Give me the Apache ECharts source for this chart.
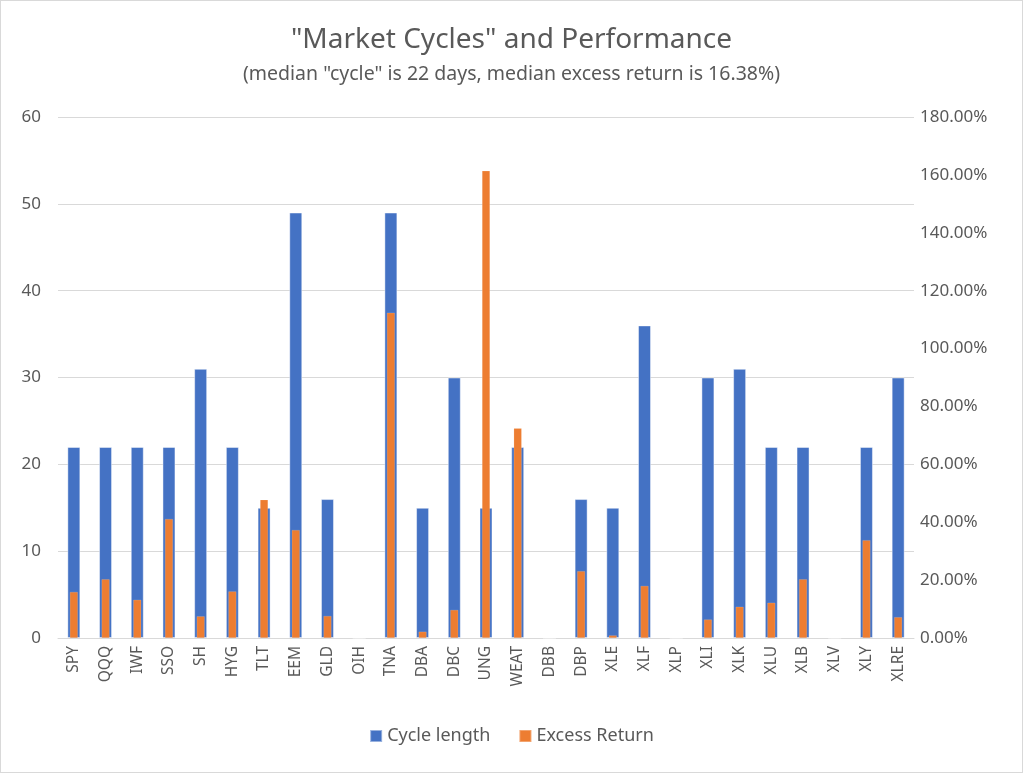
<!DOCTYPE html>
<html><head><meta charset="utf-8">
<script src="https://cdn.jsdelivr.net/npm/echarts@6/dist/echarts.min.js"></script>
<style>html,body{margin:0;padding:0;background:#fff}#c{width:1021px;height:771px;border:1px solid #d9d9d9}</style>
</head><body><div id="c"></div>
<script>
const categories = ['SPY','QQQ','IWF','SSO','SH','HYG','TLT','EEM','GLD','OIH','TNA','DBA','DBC','UNG','WEAT','DBB','DBP','XLE','XLF','XLP','XLI','XLK','XLU','XLB','XLV','XLY','XLRE'];
const cycleLength = [22,22,22,22,31,22,15,49,16,0,49,15,30,15,22,0,16,15,36,0,30,31,22,22,0,22,30];
const excessReturn = [15.9,20.3,13.2,41.1,7.5,16.1,47.8,37.3,7.6,0,112.4,2.2,9.7,161.4,72.5,0,23.1,0.9,18.0,0,6.4,10.8,12.2,20.3,0,33.8,7.2];
const titleText = '"Market Cycles" and Performance';
const subtitleText = '(median "cycle" is 22 days, median excess return is 16.38%)';
const font = '"Noto Sans",sans-serif';
const grey = '#595959';
const chart = echarts.init(document.getElementById('c'));
chart.setOption({
  animation:false,
  textStyle:{fontFamily:font},
  title:{text:titleText,subtext:subtitleText,left:'center',top:20,itemGap:10,
    textStyle:{fontFamily:font,fontSize:28,fontWeight:'normal',color:grey},
    subtextStyle:{fontFamily:font,fontSize:19.5,color:grey}},
  legend:{bottom:22,left:'center',itemWidth:12,itemHeight:12,itemGap:28,icon:'rect',
    textStyle:{fontFamily:font,fontSize:18,color:grey},
    data:['Cycle length','Excess Return']},
  grid:{left:57,right:108,top:116,bottom:134},
  xAxis:[
    {type:'category',data:categories,axisTick:{show:false},
     axisLine:{lineStyle:{color:'#d9d9d9',width:1}},
     axisLabel:{rotate:90,fontFamily:font,fontSize:15.5,color:grey,margin:8}},
    {type:'category',data:categories,show:false}
  ],
  yAxis:[
    {type:'value',min:0,max:60,interval:10,position:'left',
     axisLine:{show:false},axisTick:{show:false},
     splitLine:{lineStyle:{color:'#d9d9d9',width:1}},
     axisLabel:{fontFamily:font,fontSize:17,color:grey,margin:17}},
    {type:'value',min:0,max:180,interval:20,position:'right',
     axisLine:{show:false},axisTick:{show:false},splitLine:{show:false},
     axisLabel:{fontFamily:font,fontSize:17,color:grey,margin:6,
       formatter:v=>v.toFixed(2)+'%'}}
  ],
  series:[
    {name:'Cycle length',type:'bar',xAxisIndex:0,yAxisIndex:0,data:cycleLength,barWidth:13,
     itemStyle:{color:'#4472C4',borderColor:'rgba(255,255,255,0.45)',borderWidth:1}},
    {name:'Excess Return',type:'bar',xAxisIndex:1,yAxisIndex:1,data:excessReturn,barWidth:8,
     itemStyle:{color:'#ED7D31',borderColor:'rgba(255,255,255,0.3)',borderWidth:0.5}}
  ]
});
</script></body></html>
